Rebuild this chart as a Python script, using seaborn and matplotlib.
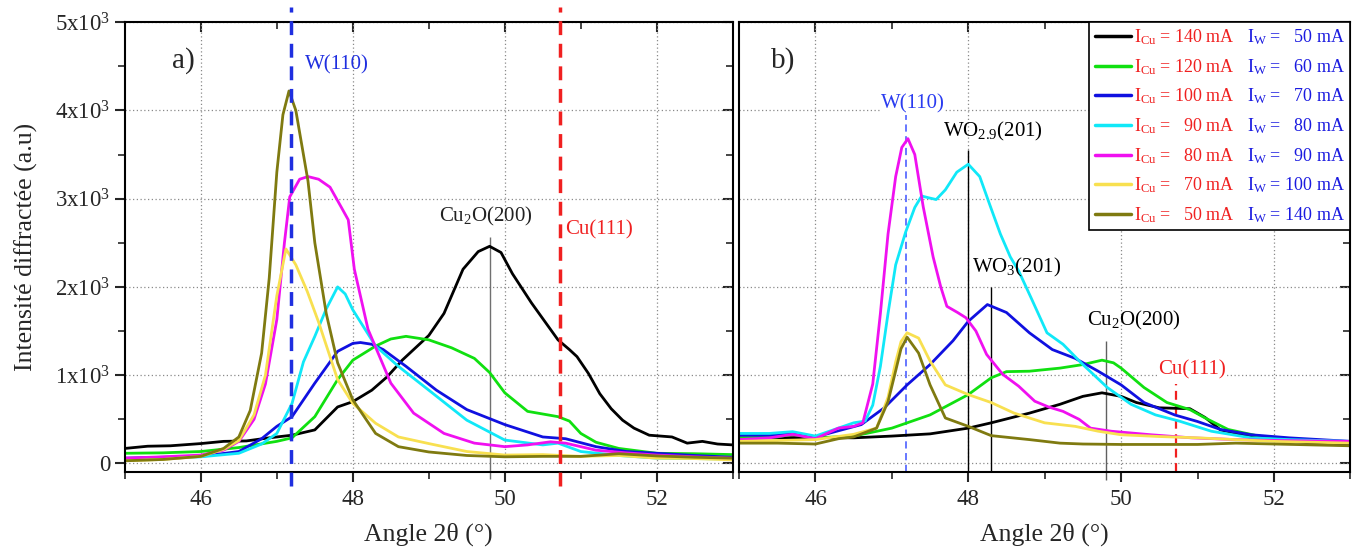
import numpy as np
import pandas as pd
import matplotlib
matplotlib.use("Agg")
import matplotlib.pyplot as plt
import seaborn as sns
from matplotlib.lines import Line2D
from matplotlib.ticker import MultipleLocator, FuncFormatter, NullFormatter

# currents (mA) for each deposit, Cu and W
cu_current = [140, 120, 100, 90, 80, 70, 50]
w_current = [50, 60, 70, 80, 90, 100, 140]
colors = ["#000000", "#10e010", "#1010e0", "#10e8f8", "#f010f0", "#f8e050", "#7f7a10"]

# reference peak positions (deg)
pos_w110 = 47.18
pos_cu111 = 50.72
pos_cu2o200 = 49.8
pos_wo29 = 48.0
pos_wo3 = 48.3

# ---- panel a) ----
a_cu140_x = [45.0, 45.3, 45.6, 46.0, 46.3, 46.6, 46.9, 47.2, 47.5, 47.8, 48.0, 48.25, 48.45, 48.65, 48.85, 49.0, 49.2, 49.45, 49.65, 49.8, 49.95, 50.1, 50.35, 50.55, 50.7, 50.85, 50.95, 51.1, 51.25, 51.4, 51.55, 51.7, 51.9, 52.05, 52.2, 52.4, 52.6, 52.8, 53.0]
a_cu140_y = [170, 195, 200, 225, 250, 255, 290, 320, 380, 640, 700, 830, 980, 1170, 1330, 1450, 1700, 2200, 2400, 2460, 2390, 2150, 1820, 1580, 1400, 1290, 1210, 1020, 790, 620, 490, 400, 320, 310, 300, 230, 250, 220, 210]
a_cu120_x = [45.0, 45.5, 46.0, 46.5, 47.0, 47.2, 47.5, 47.8, 48.0, 48.3, 48.5, 48.7, 49.0, 49.3, 49.6, 49.8, 50.0, 50.3, 50.5, 50.7, 50.85, 51.0, 51.2, 51.5, 52.0, 52.5, 53.0]
a_cu120_y = [115, 120, 135, 180, 250, 290, 530, 950, 1170, 1330, 1410, 1440, 1400, 1310, 1190, 1030, 800, 590, 560, 530, 480, 340, 240, 170, 115, 110, 100]
a_cu100_x = [45.0, 45.5, 46.0, 46.5, 46.8, 47.0, 47.2, 47.5, 47.8, 48.0, 48.1, 48.25, 48.4, 48.7, 49.1, 49.5, 50.0, 50.5, 50.8, 51.2, 51.6, 52.0, 52.5, 53.0]
a_cu100_y = [60, 70, 80, 135, 280, 420, 530, 910, 1270, 1360, 1370, 1350, 1290, 1100, 830, 610, 440, 300, 280, 190, 135, 115, 90, 70]
a_cu90_x = [45.0, 45.5, 46.0, 46.5, 46.8, 47.0, 47.2, 47.35, 47.5, 47.65, 47.8, 47.9, 48.0, 48.3, 48.6, 49.0, 49.5, 50.0, 50.5, 50.7, 51.0, 51.5, 52.0, 53.0]
a_cu90_y = [40, 55, 75, 115, 220, 340, 680, 1150, 1440, 1750, 2000, 1920, 1740, 1330, 1100, 830, 490, 265, 210, 230, 135, 90, 60, 50]
a_cu80_x = [45.0, 45.5, 46.0, 46.3, 46.5, 46.7, 46.85, 47.0, 47.1, 47.17, 47.3, 47.41, 47.55, 47.7, 47.85, 47.94, 48.02, 48.2, 48.5, 48.8, 49.2, 49.6, 50.0, 50.3, 50.6, 50.8, 51.2, 51.6, 52.0, 52.5, 53.0]
a_cu80_y = [60, 75, 95, 150, 250, 500, 900, 1630, 2500, 3020, 3220, 3250, 3220, 3130, 2900, 2760, 2200, 1520, 910, 570, 340, 230, 190, 210, 245, 230, 150, 120, 95, 75, 60]
a_cu70_x = [45.0, 45.5, 46.0, 46.3, 46.5, 46.7, 46.85, 47.0, 47.12, 47.25, 47.4, 47.55, 47.8, 48.0, 48.3, 48.6, 49.0, 49.5, 50.0, 50.5, 51.0, 51.5, 52.0, 52.5, 53.0]
a_cu70_y = [30, 45, 80, 160, 260, 550, 1000, 1900, 2430, 2250, 1950, 1600, 950, 680, 455, 300, 225, 135, 95, 100, 80, 90, 60, 55, 40]
a_cu50_x = [45.0, 45.5, 46.0, 46.3, 46.5, 46.65, 46.8, 46.9, 47.0, 47.08, 47.16, 47.25, 47.41, 47.5, 47.65, 47.8, 48.0, 48.3, 48.6, 49.0, 49.5, 50.0, 50.5, 51.0, 51.5, 52.0, 52.5, 53.0]
a_cu50_y = [30, 45, 80, 170, 300, 600, 1250, 2100, 3300, 3950, 4220, 4000, 3200, 2500, 1700, 1140, 720, 340, 190, 130, 90, 75, 80, 80, 110, 85, 70, 60]

# ---- panel b) ----
b_cu140_x = [45.0, 45.5, 46.0, 46.5, 47.0, 47.5, 48.0, 48.3, 48.8, 49.2, 49.5, 49.75, 50.0, 50.2, 50.5, 50.7, 50.9, 51.1, 51.3, 51.6, 52.0, 52.5, 53.0]
b_cu140_y = [290, 290, 295, 290, 310, 335, 400, 460, 570, 670, 760, 800, 760, 690, 630, 625, 620, 520, 380, 325, 270, 230, 210]
b_cu120_x = [45.0, 45.5, 45.7, 46.0, 46.5, 47.0, 47.2, 47.5, 48.0, 48.3, 48.5, 48.8, 49.2, 49.5, 49.75, 49.9, 50.0, 50.3, 50.6, 50.9, 51.1, 51.4, 51.8, 52.2, 53.0]
b_cu120_y = [290, 300, 330, 290, 310, 400, 460, 550, 780, 970, 1040, 1045, 1080, 1120, 1170, 1140, 1080, 860, 690, 610, 515, 385, 310, 270, 240]
b_cu100_x = [45.0, 45.4, 45.7, 46.0, 46.3, 46.6, 46.9, 47.2, 47.5, 47.8, 48.0, 48.25, 48.5, 48.8, 49.1, 49.4, 49.7, 50.0, 50.3, 50.7, 51.0, 51.3, 51.7, 52.2, 53.0]
b_cu100_y = [320, 320, 340, 300, 370, 440, 630, 890, 1120, 1390, 1610, 1800, 1710, 1480, 1290, 1190, 1045, 890, 690, 550, 475, 385, 325, 290, 250]
b_cu90_x = [45.0, 45.4, 45.7, 46.0, 46.3, 46.5, 46.65, 46.75, 46.85, 46.95, 47.05, 47.18, 47.3, 47.39, 47.48, 47.58, 47.7, 47.85, 48.0, 48.15, 48.29, 48.42, 48.55, 48.66, 48.82, 49.03, 49.24, 49.5, 49.82, 50.13, 50.45, 50.76, 51.18, 51.7, 52.2, 53.0]
b_cu90_y = [340, 340, 360, 310, 400, 460, 480, 660, 1100, 1700, 2250, 2620, 2900, 3030, 3010, 2990, 3100, 3300, 3390, 3250, 2910, 2600, 2340, 2180, 1880, 1480, 1350, 1120, 860, 670, 550, 480, 365, 290, 270, 250]
b_cu80_x = [45.0, 45.4, 45.7, 46.0, 46.3, 46.5, 46.62, 46.75, 46.85, 46.95, 47.05, 47.13, 47.21, 47.3, 47.41, 47.54, 47.64, 47.72, 47.86, 47.97, 48.1, 48.24, 48.45, 48.66, 48.87, 49.05, 49.24, 49.45, 49.6, 49.87, 50.39, 50.92, 51.5, 52.0, 53.0]
b_cu80_y = [270, 290, 330, 280, 400, 420, 460, 900, 1700, 2600, 3250, 3580, 3680, 3500, 2910, 2340, 2000, 1780, 1710, 1650, 1500, 1235, 1010, 875, 705, 640, 590, 500, 400, 365, 325, 290, 270, 260, 250]
b_cu70_x = [45.0, 45.5, 46.0, 46.5, 46.8, 46.95, 47.05, 47.12, 47.2, 47.35, 47.5, 47.7, 48.0, 48.3, 48.6, 49.0, 49.4, 49.7, 50.0, 50.5, 51.0, 52.0, 53.0]
b_cu70_y = [250, 260, 270, 330, 400, 750, 1150, 1380, 1480, 1420, 1160, 890, 780, 690, 570, 460, 420, 365, 325, 305, 290, 250, 230]
b_cu50_x = [45.0, 45.5, 46.0, 46.3, 46.5, 46.8, 46.95, 47.05, 47.12, 47.2, 47.35, 47.5, 47.7, 48.0, 48.3, 48.8, 49.2, 49.5, 50.0, 51.0, 51.5, 52.0, 53.0]
b_cu50_y = [230, 230, 220, 280, 300, 400, 700, 1050, 1300, 1430, 1250, 890, 515, 420, 315, 270, 230, 220, 215, 215, 230, 220, 200]

a_x = [a_cu140_x, a_cu120_x, a_cu100_x, a_cu90_x, a_cu80_x, a_cu70_x, a_cu50_x]
a_y = [a_cu140_y, a_cu120_y, a_cu100_y, a_cu90_y, a_cu80_y, a_cu70_y, a_cu50_y]
b_x = [b_cu140_x, b_cu120_x, b_cu100_x, b_cu90_x, b_cu80_x, b_cu70_x, b_cu50_x]
b_y = [b_cu140_y, b_cu120_y, b_cu100_y, b_cu90_y, b_cu80_y, b_cu70_y, b_cu50_y]


def long_df(xs, ys):
    frames = []
    for cu, x, y in zip(cu_current, xs, ys):
        frames.append(pd.DataFrame({"angle": x, "intensity": y, "cu": str(cu)}))
    return pd.concat(frames, ignore_index=True)


df_a = long_df(a_x, a_y)
df_b = long_df(b_x, b_y)

sns.set_theme(style="ticks")
plt.rcParams["font.family"] = ["Liberation Serif", "DejaVu Serif"]
plt.rcParams["mathtext.fontset"] = "custom"
plt.rcParams["mathtext.rm"] = "Liberation Serif"
plt.rcParams["mathtext.default"] = "regular"

fig = plt.figure(figsize=(13.57, 5.53), dpi=100)
ax1 = fig.add_axes([0.092, 0.146, 0.448, 0.814])
ax2 = fig.add_axes([0.5446, 0.146, 0.4505, 0.814])

palette = dict(zip([str(c) for c in cu_current], colors))
hue_order = [str(c) for c in cu_current]
sns.lineplot(data=df_a, x="angle", y="intensity", hue="cu", hue_order=hue_order,
             palette=palette, estimator=None, sort=False, legend=False, lw=2, ax=ax1)
sns.lineplot(data=df_b, x="angle", y="intensity", hue="cu", hue_order=hue_order,
             palette=palette, estimator=None, sort=False, legend=False, lw=2, ax=ax2)

ylab = FuncFormatter(lambda v, p: "0" if v == 0 else "%dx10$^3$" % round(v / 1000))

for ax in (ax1, ax2):
    ax.set_xlim(45, 53)
    ax.set_ylim(-100, 5000)
    ax.xaxis.set_major_locator(MultipleLocator(2))
    ax.xaxis.set_minor_locator(MultipleLocator(1))
    ax.yaxis.set_major_locator(MultipleLocator(1000))
    ax.yaxis.set_minor_locator(MultipleLocator(500))
    ax.grid(True, which="major", color="#8a8a8a", linestyle=(0, (1, 2)), lw=0.9)
    for s in ax.spines.values():
        s.set_linewidth(1.5)
        s.set_color("black")
    ax.tick_params(axis="x", which="major", direction="out", length=7, width=1.5,
                   labelsize=16.5, pad=5, bottom=True, top=False)
    ax.tick_params(axis="x", which="minor", direction="out", length=5, width=1.2,
                   bottom=True, top=False)
    ax.set_xlabel("Angle 2θ (°)", fontsize=18.5, labelpad=9)
    # inward ticks on top and right
    top = ax.secondary_xaxis("top")
    top.xaxis.set_major_locator(MultipleLocator(2))
    top.xaxis.set_minor_locator(MultipleLocator(1))
    top.xaxis.set_major_formatter(NullFormatter())
    top.tick_params(which="major", direction="in", length=7, width=1.5, top=True, labeltop=False)
    top.tick_params(which="minor", direction="in", length=5, width=1.2, top=True)
    right = ax.secondary_yaxis("right")
    right.yaxis.set_major_locator(MultipleLocator(1000))
    right.yaxis.set_minor_locator(MultipleLocator(500))
    right.yaxis.set_major_formatter(NullFormatter())
    right.tick_params(which="major", direction="in", length=7, width=1.5, right=True, labelright=False)
    right.tick_params(which="minor", direction="in", length=5, width=1.2, right=True)

ax1.yaxis.set_major_formatter(ylab)
ax1.tick_params(axis="y", which="major", direction="out", length=7, width=1.5,
                labelsize=16.5, left=True, right=False)
ax1.tick_params(axis="y", which="minor", direction="out", length=5, width=1.2, left=True, right=False)
ax1.set_ylabel("Intensité diffractée (a.u)", fontsize=18.5, labelpad=12)
ax2.tick_params(axis="y", which="both", left=False, right=False, labelleft=False)
ax2.set_ylabel("")

# ---- annotations panel a ----
ax1.vlines(pos_w110, -250, 5170, colors="#1f2fe0", linestyles=(0, (4, 2.5)), lw=2.5, clip_on=False, zorder=5)
ax1.vlines(pos_cu111, -250, 5170, colors="#f02020", linestyles=(0, (4, 2.5)), lw=2.5, clip_on=False, zorder=5)
ax1.vlines(pos_cu2o200, -180, 2570, colors="#707070", lw=1, clip_on=False, zorder=1)
ax1.text(45.62, 4560, "a)", fontsize=21, ha="left", va="center")
ax1.text(47.37, 4520, "W(110)", color="#1f2fe0", fontsize=15, ha="left", va="center")
ax1.text(49.75, 2800, "Cu$_2$O(200)", color="#222222", fontsize=15, ha="center", va="center")
ax1.text(50.8, 2650, "Cu(111)", color="#f02020", fontsize=15, ha="left", va="center")

# ---- annotations panel b ----
ax2.vlines(pos_w110, -100, 3950, colors="#5a6cff", linestyles=(0, (4, 2.5)), lw=1.3, zorder=1, clip_on=False)
ax2.vlines(pos_cu111, -100, 900, colors="#f02020", linestyles=(0, (4, 2.5)), lw=1.6, zorder=1, clip_on=False)
ax2.vlines(pos_wo29, -100, 3550, colors="black", lw=1, zorder=1)
ax2.vlines(pos_wo3, -100, 2000, colors="black", lw=1, zorder=1)
ax2.vlines(pos_cu2o200, -190, 1390, colors="#606060", lw=1, zorder=1, clip_on=False)
ax2.text(45.42, 4560, "b)", fontsize=21, ha="left", va="center")
ax2.text(47.27, 4070, "W(110)", color="#2a3cf0", fontsize=15, ha="center", va="center",
         bbox=dict(facecolor="white", edgecolor="none", pad=0.5))
ax2.text(48.33, 3760, "WO$_{2.9}$(201)", color="black", fontsize=15, ha="center", va="center")
ax2.text(48.63, 2216, "WO$_3$(201)", color="black", fontsize=15, ha="center", va="center")
ax2.text(50.17, 1625, "Cu$_2$O(200)", color="black", fontsize=15, ha="center", va="center")
ax2.text(50.93, 1057, "Cu(111)", color="#f02020", fontsize=15, ha="center", va="center",
         bbox=dict(facecolor="white", edgecolor="none", pad=0.5))

# legend: Cu column (red) + W column (blue)
cu_labels = []
for c in cu_current:
    pad = "" if c >= 100 else "  "
    cu_labels.append("I$_{Cu}$ = " + pad + "%d mA" % c)
w_labels = []
for w in w_current:
    pad = "" if w >= 100 else "  "
    w_labels.append("I$_W$ = " + pad + "%d mA" % w)
handles = [Line2D([], [], color=c, lw=2.5) for c in colors]
blanks = [Line2D([], [], color="none") for _ in colors]
leg = ax2.legend(handles + blanks, cu_labels + w_labels, ncol=2, loc="upper right",
                 bbox_to_anchor=(1.0, 1.0), borderaxespad=0, fontsize=13,
                 frameon=True, fancybox=False, edgecolor="black", framealpha=1,
                 handlelength=2.0, handletextpad=0.2, columnspacing=-1.55,
                 labelspacing=0.55, borderpad=0.3)
leg.get_frame().set_linewidth(1.2)
leg.set_zorder(10)
for i, t in enumerate(leg.get_texts()):
    t.set_color("#f02020" if i < len(colors) else "#1a1ae0")

fig.savefig("out.png", dpi=100, facecolor="white")
